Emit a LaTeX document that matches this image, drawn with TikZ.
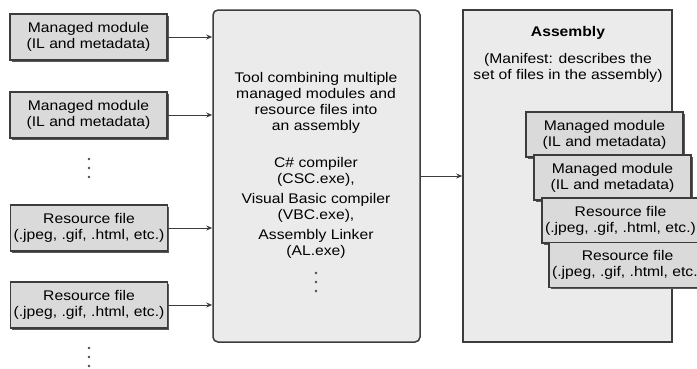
\documentclass[tikz,border=0pt]{standalone}
\usepackage{fontspec}
\setmainfont{Liberation Sans}[FakeStretch=1.12]
\usetikzlibrary{arrows.meta,shadows}
\definecolor{boxfill}{HTML}{DADADA}
\definecolor{bigfill}{HTML}{EBEBEB}
\definecolor{edge}{HTML}{3C3C3C}
\tikzset{
  filebox/.style={draw=edge, line width=1.2pt, fill=boxfill, minimum width=157pt, minimum height=46pt,
    align=center, inner sep=0pt, font=\fontsize{14}{16}\selectfont,
    drop shadow={shadow xshift=1.8pt, shadow yshift=-1.8pt, fill=black!65, opacity=1}},
  flow/.style={-{Stealth[length=6pt,width=5pt]}, line width=1pt, edge},
  bodytext/.style={align=center, font=\fontsize{14}{16}\selectfont, inner sep=0pt},
  dotcol/.style={inner sep=0pt, minimum size=1pt}
}
\begin{document}
\begin{tikzpicture}[x=1pt,y=-1pt]
                \useasboundingbox (0,0) rectangle (697,368);

                % Draw the tool box and the assembly box
                \node[draw=edge, line width=1.5pt, fill=bigfill, rounded corners=5pt,
                  minimum width=207pt, minimum height=332pt] (tool) at (316.5,176) {};
                \node[draw=edge, line width=1.5pt, fill=bigfill,
                  minimum width=209pt, minimum height=332pt] (asm) at (567.5,176) {};

                % Draw the input files
                \node[filebox] (modA) at (88.5,37) {Managed module\\(IL and metadata)};
                \node[filebox] (modB) at (88.5,115) {Managed module\\(IL and metadata)};
                \node[filebox] (resA) at (89,228) {Resource file\\(.jpeg, .gif, .html, etc.)};
                \node[filebox] (resB) at (89,305) {Resource file\\(.jpeg, .gif, .html, etc.)};

                % Draw the dots
                \node[dotcol] (dotsA) at (89,168) {};
                \node[dotcol] (dotsB) at (89,357) {};
                \node[dotcol] (dotsC) at (316,282) {};
                \foreach \n in {dotsA,dotsB,dotsC}
                  \foreach \d in {-9,0,9}
                    \fill[black!70] (\n) ++(0,\d) circle (1.3pt);

                % Label the tool
                \node[bodytext] (toolText) at (316,103) {Tool combining multiple\\managed modules and\\resource files into\\an assembly};
                \node[bodytext] (toolList) at (316,208) {C\# compiler\\(CSC.exe),\\[4pt]Visual Basic compiler\\(VBC.exe),\\[4pt]Assembly Linker\\(AL.exe)};

                % Draw the arrows
                \draw[flow] (modA.east) -- (modA.east -| tool.west);
                \draw[flow] (modB.east) -- (modB.east -| tool.west);
                \draw[flow] (resA.east) -- (resA.east -| tool.west);
                \draw[flow] (resB.east) -- (resB.east -| tool.west);
                \draw[flow] (tool.east) -- (tool.east -| asm.west);

                % Label the assembly
                \node[bodytext, font=\fontsize{14}{16}\selectfont\bfseries] (asmTitle) at (568,33) {Assembly};
                \node[bodytext] (manifest) at (568,68) {(Manifest: describes the\\set of files in the assembly)};

                % Draw the files inside the assembly
                \node[filebox, minimum height=45pt] (inA) at (604.5,134.5) {Managed module\\(IL and metadata)};
                \node[filebox, minimum height=45pt] (inB) at (612.5,177.5) {Managed module\\(IL and metadata)};
                \node[filebox, minimum height=45pt] (inC) at (620.5,220.5) {Resource file\\(.jpeg, .gif, .html, etc.)};
                \node[filebox, minimum height=45pt] (inD) at (627.5,265) {Resource file\\(.jpeg, .gif, .html, etc.)};

            \end{tikzpicture}
\end{document}
